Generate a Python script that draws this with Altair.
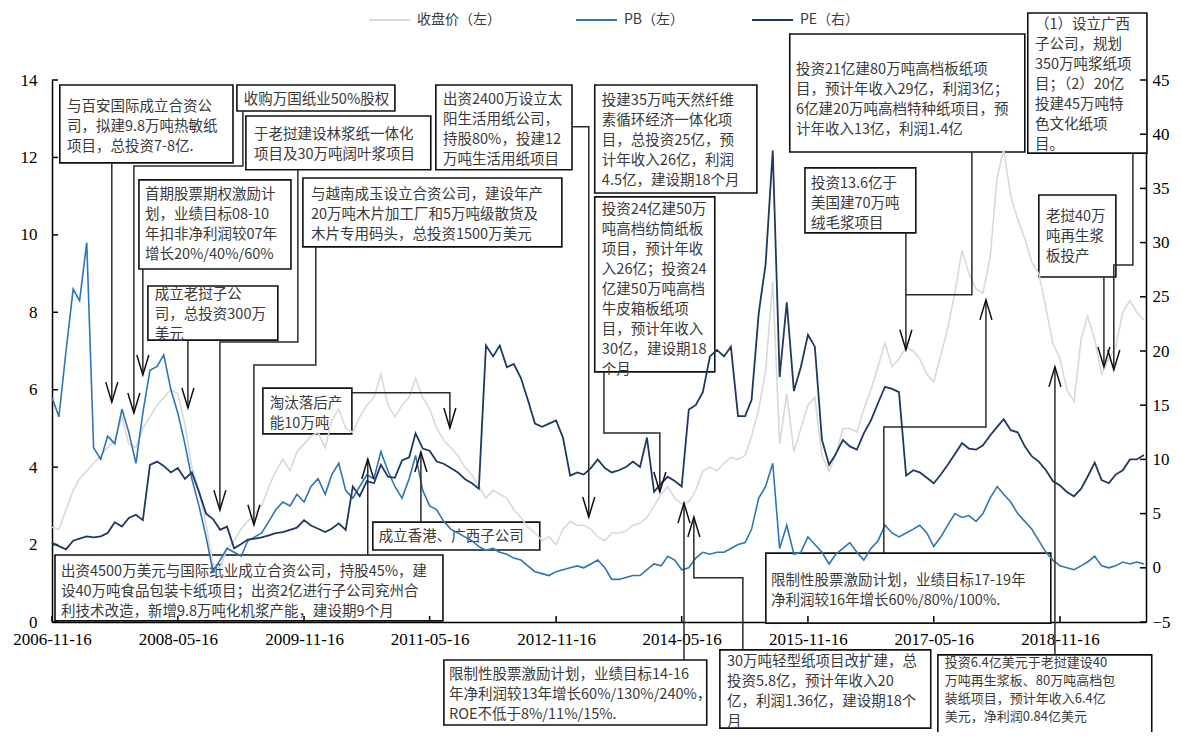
import altair as alt
import pandas as pd

START = "2006-11-16"

# ---- series (monthly readings, left axis: close & PB; right axis: PE) ----
close_price = [
    2.45, 2.4, 2.9, 3.4, 3.7, 3.9, 4.1, 4.3, 4.5, 4.7, 5.3, 4.6,
    4.5, 5.0, 5.3, 5.6, 5.8, 6.0, 5.9, 5.1, 4.0, 3.4, 2.5, 1.5,
    1.4, 1.9, 2.1, 2.4, 2.6, 2.8, 3.0, 3.5, 3.9, 4.2, 3.9, 4.4,
    4.6, 4.8, 4.9, 4.5, 5.2, 5.5, 5.0, 4.9, 5.3, 5.6, 5.8, 6.4,
    5.6, 5.3, 5.6, 5.8, 6.3, 5.8, 5.5, 5.0, 4.7, 4.5, 4.3, 4.0,
    3.8, 3.5, 3.2, 3.4, 3.3, 3.2, 2.9, 2.7, 2.45, 2.3, 2.1, 2.2,
    2.0, 2.4, 2.6, 2.5, 2.5, 2.4, 2.2, 2.1, 2.3, 2.3, 2.35, 2.5,
    2.55, 2.7, 3.0, 3.3, 3.5, 3.2, 3.05, 3.1, 3.4, 3.9, 4.0, 3.9,
    4.1, 4.25, 4.2, 4.3, 4.8, 5.5, 6.5, 8.8, 4.6, 5.9, 4.4, 5.0,
    5.6, 5.8, 4.3, 3.9, 4.3, 5.0, 5.0, 4.9, 5.5, 6.0, 6.6, 7.2,
    6.6, 6.8, 7.1, 7.0, 6.8, 6.4, 6.2, 6.9, 7.6, 8.5, 9.6, 9.0,
    8.6, 8.5, 9.4, 11.5, 12.2, 11.0, 10.4, 9.9, 9.3, 9.0, 8.1, 7.2,
    6.8, 6.0, 5.7, 7.3, 7.9, 7.3, 6.4, 6.8, 7.1, 8.0, 8.3, 8.0,
    7.8,
]
pb_ratio = [
    5.8, 5.3, 7.0, 8.6, 8.3, 9.8, 4.5, 4.2, 4.8, 4.6, 5.5, 4.9,
    4.1, 5.4, 6.5, 6.6, 6.9, 6.0, 5.4, 4.6, 3.7, 3.0, 2.2, 1.3,
    1.6, 1.9, 1.8, 1.7, 2.1, 2.2, 2.3, 2.6, 2.9, 3.1, 3.0, 3.3,
    3.1, 3.5, 3.7, 3.3, 3.8, 4.1, 3.4, 3.2, 3.5, 3.8, 3.7, 4.4,
    3.9, 3.5, 3.2, 3.7, 4.3, 3.4, 3.0, 2.9, 2.6, 2.4, 2.3, 2.2,
    2.1, 1.95, 1.85, 1.9, 1.8, 1.75, 1.65, 1.6, 1.45, 1.3, 1.25, 1.2,
    1.3, 1.35, 1.4, 1.45, 1.4, 1.5, 1.6, 1.4, 1.1, 1.1, 1.15, 1.2,
    1.2, 1.35, 1.5, 1.45, 1.7, 1.6, 1.35, 1.4, 1.65, 1.8, 1.75, 1.8,
    1.8, 1.9, 2.0, 2.05, 2.4, 3.2, 3.5, 4.1, 1.9, 2.5, 1.75, 1.8,
    2.2, 2.0, 1.8, 1.5, 1.75, 1.9, 2.05, 1.8, 1.6, 1.9, 2.1, 2.5,
    2.3, 2.2, 2.3, 2.4, 2.5, 2.3, 1.95, 2.2, 2.5, 2.8, 2.7, 2.75,
    2.6, 2.8, 3.2, 3.5, 3.3, 3.1, 2.8, 2.6, 2.4, 2.1, 1.8, 1.6,
    1.45, 1.4, 1.35, 1.45, 1.55, 1.7, 1.45, 1.4, 1.45, 1.55, 1.5, 1.55,
    1.5,
]
pe_ratio = [
    2.3, 2.0, 1.7, 2.5, 2.7, 2.9, 2.8, 2.9, 3.2, 4.2, 3.8, 4.6,
    4.9, 4.4, 9.5, 9.8, 9.4, 8.8, 9.2, 8.2, 8.8, 7.0, 5.0, 4.5,
    3.5, 3.8, 1.8, 2.2, 2.6, 2.7, 2.8, 3.0, 3.2, 3.3, 3.5, 3.7,
    4.4, 3.9, 3.6, 3.3, 3.6, 4.1, 3.5, 7.5, 6.6, 8.0, 7.8, 9.5,
    8.4, 8.3, 9.9, 10.2, 12.4, 11.0, 10.8, 9.8, 9.6, 9.2, 8.8, 8.2,
    7.8, 7.3, 20.5, 19.5, 20.5, 18.5, 18.8, 17.5, 15.5, 13.3, 13.0, 13.3,
    13.6, 12.0, 8.5, 8.8, 8.6, 9.2, 10.0, 9.2, 8.8, 9.0, 9.3, 9.8,
    9.3, 12.0, 7.0, 7.8, 8.4, 8.0, 7.5, 14.6, 15.0, 16.2, 19.5, 20.1,
    19.5, 20.4, 14.0, 14.0, 15.5, 23.5, 28.0, 38.5, 17.6, 24.5, 16.3, 18.5,
    21.5, 20.4, 11.8, 9.5, 10.5, 11.8, 11.2, 10.9, 12.4, 13.6, 15.2, 16.7,
    16.5, 16.2, 8.5, 9.0, 8.8, 8.3, 7.8, 8.6, 9.5, 10.5, 11.5, 11.0,
    10.9, 11.3, 12.2, 13.0, 13.7, 12.7, 12.5, 11.2, 10.3, 9.8, 9.0, 8.0,
    7.6, 7.0, 6.6, 7.3, 8.4, 9.7, 8.1, 7.8, 8.6, 9.0, 10.0, 10.0,
    10.4,
]
dates = pd.date_range(START, periods=len(close_price),
                      freq=pd.DateOffset(months=1)).strftime("%Y-%m-%d").tolist()

tick_dates = [(2006, 11), (2008, 5), (2009, 11), (2011, 5), (2012, 11),
              (2014, 5), (2015, 11), (2017, 5), (2018, 11)]
left_ticks = [0, 2, 4, 6, 8, 10, 12, 14]
right_ticks = [-5, 0, 5, 10, 15, 20, 25, 30, 35, 40, 45]

legend_names = ["收盘价（左）", "PB（左）", "PE（右）"]
series_colors = ["#D9D9D9", "#2E75B6", "#1F3864"]

# ---- annotations: box (months from start, left-axis units), text anchor, connector ----
notes = [
    dict(lines=["与百安国际成立合资公", "司，拟建9.8万吨热敏纸", "项目，总投资7-8亿."],
         box=(1.14, 25.86, 13.87, 11.86), at=(2.14, 13.55),
         path=[(8.57, 11.86), (8.57, 5.68)], arrow="down"),
    dict(lines=["收购万国纸业50%股权"],
         box=(26.43, 49.0, 13.87, 13.2), at=(27.43, 13.74),
         path=[(27.29, 13.2), (27.29, 11.78), (11.71, 11.78), (11.71, 5.40)], arrow="down"),
    dict(lines=["首期股票期权激励计", "划，业绩目标08-10", "年扣非净利润较07年", "增长20%/40%/60%"],
         box=(12.43, 34.14, 11.42, 9.12), at=(13.29, 11.28),
         path=[(13.0, 9.12), (13.0, 6.38)], arrow="down"),
    dict(lines=["成立老挝子公", "司，总投资300万", "美元"],
         box=(13.71, 32.29, 8.68, 7.28), at=(14.71, 8.70),
         path=[(19.43, 7.28), (19.43, 5.53)], arrow="down"),
    dict(lines=["于老挝建设林浆纸一体化", "项目及30万吨阔叶浆项目"],
         box=(27.71, 54.14, 13.07, 11.68), at=(28.86, 12.83),
         path=[(35.14, 11.68), (35.14, 7.23), (24.0, 7.23), (24.0, 2.89)], arrow="down"),
    dict(lines=["与越南成玉设立合资公司，建设年产", "20万吨木片加工厂和5万吨级散货及", "木片专用码头，总投资1500万美元"],
         box=(35.86, 72.86, 11.47, 9.69), at=(37.0, 11.28),
         path=[(37.71, 9.69), (37.71, 6.64), (28.86, 6.64), (28.86, 2.51)], arrow="down"),
    dict(lines=["出资2400万设立太", "阳生活用纸公司，", "持股80%，投建12", "万吨生活用纸项目"],
         box=(54.86, 74.29, 13.87, 11.68), at=(55.86, 13.74),
         path=[(74.29, 12.79), (76.71, 12.79), (76.71, 2.71)], arrow="down"),
    dict(lines=["淘汰落后产", "能10万吨"],
         box=(30.14, 42.86, 6.04, 4.86), at=(31.14, 5.88),
         path=[(42.86, 5.92), (56.86, 5.92), (56.86, 5.01)], arrow="down"),
    dict(lines=["成立香港、广西子公司"],
         box=(45.86, 69.71, 2.58, 1.86), at=(46.71, 2.45),
         path=[(52.71, 2.58), (52.71, 4.39)], arrow="up"),
    dict(lines=["出资4500万美元与国际纸业成立合资公司，持股45%，建",
                "设40万吨食品包装卡纸项目；出资2亿进行子公司兖州合",
                "利技术改造，新增9.8万吨化机浆产能，建设期9个月"],
         box=(0.43, 55.86, 1.73, 0.03), at=(1.29, 1.54),
         path=[(45.14, 1.73), (45.14, 4.21)], arrow="up"),
    dict(lines=["限制性股票激励计划，业绩目标14-16", "年净利润较13年增长60%/130%/240%，", "ROE不低于8%/11%/15%."],
         box=(56.0, 93.57, -0.98, -2.66), at=(56.71, -1.12),
         path=[(90.29, -0.98), (90.29, 3.07)], arrow="up"),
    dict(lines=["30万吨轻型纸项目改扩建，总", "投资5.8亿，预计年收入20", "亿，利润1.36亿，建设期18个", "月"],
         box=(95.43, 125.57, -0.72, -2.74), at=(96.43, -0.78),
         path=[(98.71, -0.72), (98.71, 1.14), (91.71, 1.14), (91.71, 2.71)], arrow="up"),
    dict(lines=["投建35万吨天然纤维", "素循环经济一体化项", "目，总投资25亿，预", "计年收入26亿，利润", "4.5亿，建设期18个月"],
         box=(77.57, 100.71, 13.87, 11.08), at=(78.57, 13.71),
         path=[], arrow=None),
    dict(lines=["投资24亿建50万", "吨高档纺筒纸板", "项目，预计年收", "入26亿；投资24", "亿建50万吨高档",
                "牛皮箱板纸项", "目，预计年收入", "30亿，建设期18", "个月"],
         box=(77.57, 94.71, 10.98, 6.46), at=(78.57, 10.90),
         path=[(78.86, 6.46), (78.86, 4.88), (86.86, 4.88), (86.86, 3.36)], arrow="down"),
    dict(lines=["投资21亿建80万吨高档板纸项", "目，预计年收入29亿，利润3亿；", "6亿建20万吨高档特种纸项目，预", "计年收入13亿，利润1.4亿"],
         box=(105.43, 139.0, 15.19, 12.14), at=(106.29, 14.52),
         path=[(131.43, 12.14), (131.43, 8.45), (122.0, 8.45), (122.0, 7.03)], arrow="down"),
    dict(lines=["投资13.6亿于", "美国建70万吨", "绒毛浆项目"],
         box=(107.57, 123.43, 11.73, 10.05), at=(108.43, 11.57),
         path=[(122.0, 10.05), (122.0, 8.45)], arrow=None),
    dict(lines=["限制性股票激励计划，业绩目标17-19年", "净利润较16年增长60%/80%/100%."],
         box=(102.0, 142.71, 1.78, -0.03), at=(102.71, 1.31),
         path=[(118.86, 1.78), (118.86, 5.04), (133.43, 5.04), (133.43, 8.32)], arrow="up"),
    dict(lines=["投资6.4亿美元于老挝建设40", "万吨再生浆板、80万吨高档包", "装纸项目，预计年收入6.4亿", "美元，净利润0.84亿美元"],
         box=(126.57, 157.14, -0.85, -3.18), at=(127.57, -0.82), tight=True,
         path=[(143.29, -0.85), (143.29, 6.59)], arrow="up"),
    dict(lines=["（1）设立广西", "子公司，规划", "350万吨浆纸项", "目；（2）20亿", "投建45万吨特", "色文化纸项", "目。"],
         box=(139.43, 156.43, 15.73, 12.11), at=(140.43, 15.67),
         path=[(154.43, 12.11), (154.43, 9.22), (151.71, 9.22), (151.71, 6.51)], arrow="down"),
    dict(lines=["老挝40万", "吨再生浆", "板投产"],
         box=(141.0, 152.0, 11.03, 8.91), at=(142.0, 10.71),
         path=[(150.29, 8.91), (150.29, 6.59)], arrow="down"),
]

# ---- tables ----
base = pd.Timestamp(START)


def mdate(m):
    return (base + pd.Timedelta(days=m * 30.436875)).strftime("%Y-%m-%d")


series_df = pd.DataFrame({"date": dates, "close": close_price, "pb": pb_ratio, "pe": pe_ratio})

box_rows, text_rows, path_rows, arrow_rows = [], [], [], []
for i, n in enumerate(notes):
    b = n["box"]
    box_rows.append({"x": mdate(b[0]), "x2": mdate(b[1]), "y": b[2], "y2": b[3]})
    text_rows.append({"x": mdate(n["at"][0]), "y": n["at"][1], "text": "\n".join(n["lines"]),
                      "tight": bool(n.get("tight", False))})
    for k, (pm, pv) in enumerate(n["path"]):
        path_rows.append({"id": i, "k": k, "x": mdate(pm), "y": pv})
    if n["arrow"]:
        pm, pv = n["path"][-1]
        arrow_rows.append({"x": mdate(pm), "y": pv, "dir": n["arrow"]})

box_df = pd.DataFrame(box_rows)
text_df = pd.DataFrame(text_rows)
path_df = pd.DataFrame(path_rows)
arrow_df = pd.DataFrame(arrow_rows)
tick_df = pd.DataFrame({"d": [f"{y}-{m:02d}-16" for y, m in tick_dates]})
lt_df = pd.DataFrame({"v": left_ticks})
rt_df = pd.DataFrame({"v": right_ticks})
one = pd.DataFrame({"k": [0]})

# ---- scales & axes ----
AX_FONT = "Liberation Serif, Times New Roman, serif"
CJK = "Noto Sans CJK SC"
TXT = "#3a3a3a"
AX_STYLE = dict(labelFont=AX_FONT, labelFontSize=17, labelColor="black", domainColor="black",
                domainWidth=1.5, ticks=False, grid=False, title=None, labelFlush=False)

x_scale = alt.Scale(type="utc", domain=[alt.DateTime(year=2006, month=11, date=16, utc=True),
                                        alt.DateTime(year=2019, month=11, date=25, utc=True)])
x_axis = alt.Axis(values=[alt.DateTime(year=y, month=m, date=16, utc=True) for y, m in tick_dates],
                  labelExpr="utcFormat(datum.value, '%Y-%m-%d')", labelPadding=9,
                  labelOverlap=False, **AX_STYLE)


def X(field):
    return alt.X(field, scale=x_scale, axis=x_axis)


yl_scale = alt.Scale(domain=[0, 14], nice=False, zero=False)
yl_axis = alt.Axis(orient="left", values=left_ticks, labelPadding=15, **AX_STYLE)
yr_scale = alt.Scale(domain=[-5, 45], nice=False, zero=False)
yr_axis = alt.Axis(orient="right", values=right_ticks, labelPadding=6, **AX_STYLE)


def YL(field):
    return alt.Y(field, scale=yl_scale, axis=yl_axis)


def YR(field):
    return alt.Y(field, scale=yr_scale, axis=yr_axis)


def YC(field):
    return alt.Y(field, scale=yl_scale, axis=None)


# ---- group A: boxes, texts, left series, axis ticks, legend ----
boxes = alt.Chart(box_df).mark_rect(fill="white", stroke="#111", strokeWidth=1.6).encode(
    x=X("x:T"), x2="x2:T", y=YL("y:Q"), y2="y2:Q")
texts = alt.Chart(text_df[~text_df["tight"]]).mark_text(
    align="left", baseline="top", lineBreak="\n", lineHeight=20, dy=3,
    font=CJK, fontSize=14.5, color=TXT).encode(x=X("x:T"), y=YL("y:Q"), text="text:N")
texts_tight = alt.Chart(text_df[text_df["tight"]]).mark_text(
    align="left", baseline="top", lineBreak="\n", lineHeight=18, dy=3,
    font=CJK, fontSize=13, color=TXT).encode(x=X("x:T"), y=YL("y:Q"), text="text:N")
close_line = alt.Chart(series_df).mark_line(color=series_colors[0], strokeWidth=1.6).encode(
    x=X("date:T"), y=YL("close:Q"))
pb_line = alt.Chart(series_df).mark_line(color=series_colors[1], strokeWidth=1.6).encode(
    x=X("date:T"), y=YL("pb:Q"))
lticks = alt.Chart(lt_df).mark_rule(color="black", strokeWidth=1.5).encode(
    y=YL("v:Q"), x=alt.value(0), x2=alt.value(6))
bticks = alt.Chart(tick_df).mark_rule(color="black", strokeWidth=1.5).encode(
    x=X("d:T"), y=alt.value(542), y2=alt.value(536))

legend_layers = []
for name, col, lx in zip(legend_names, series_colors, [317, 524, 700]):
    legend_layers.append(alt.Chart(one).mark_rule(color=col, strokeWidth=2).encode(
        x=alt.value(lx), x2=alt.value(lx + 41), y=alt.value(-60)))
    legend_layers.append(alt.Chart(one).mark_text(align="left", baseline="middle", font=CJK,
                                                   fontSize=14, color=TXT).encode(
        x=alt.value(lx + 48), y=alt.value(-60), text=alt.value(name)))

group_a = alt.layer(boxes, texts, texts_tight, close_line, pb_line, lticks, bticks, *legend_layers)

# ---- group B: PE on right axis ----
pe_line = alt.Chart(series_df).mark_line(color=series_colors[2], strokeWidth=1.8).encode(
    x=X("date:T"), y=YR("pe:Q"))
rticks = alt.Chart(rt_df).mark_rule(color="black", strokeWidth=1.5).encode(
    y=YR("v:Q"), x=alt.value(1094), x2=alt.value(1088))
group_b = alt.layer(pe_line, rticks)

# ---- group C: connectors and arrowheads ----
connectors = alt.Chart(path_df).mark_line(color="#2a2a2a", strokeWidth=1.5).encode(
    x=X("x:T"), y=YC("y:Q"), detail="id:N", order="k:Q")
down_heads = alt.Chart(arrow_df[arrow_df["dir"] == "down"]).mark_point(
    shape="M-0.3,-1L0,0L0.3,-1", size=1600, filled=False, color="#111", strokeWidth=1.5, opacity=1
).encode(x=X("x:T"), y=YC("y:Q"))
up_heads = alt.Chart(arrow_df[arrow_df["dir"] == "up"]).mark_point(
    shape="M-0.3,1L0,0L0.3,1", size=1600, filled=False, color="#111", strokeWidth=1.5, opacity=1
).encode(x=X("x:T"), y=YC("y:Q"))
group_c = alt.layer(connectors, down_heads, up_heads)

chart = alt.layer(group_a, group_b, group_c).resolve_scale(y="independent").properties(
    width=1094, height=542,
    padding={"left": 44, "top": 72, "right": 27, "bottom": 110},
    autosize=alt.AutoSizeParams(type="none"),
    background="white",
).configure_view(stroke=None).configure_axis(
    labelFont=AX_FONT, labelFontSize=17, labelColor="black",
    domainColor="black", domainWidth=1.5, ticks=False, grid=False,
)

chart.save("out.html", embed_options={"renderer": "svg", "actions": False})
